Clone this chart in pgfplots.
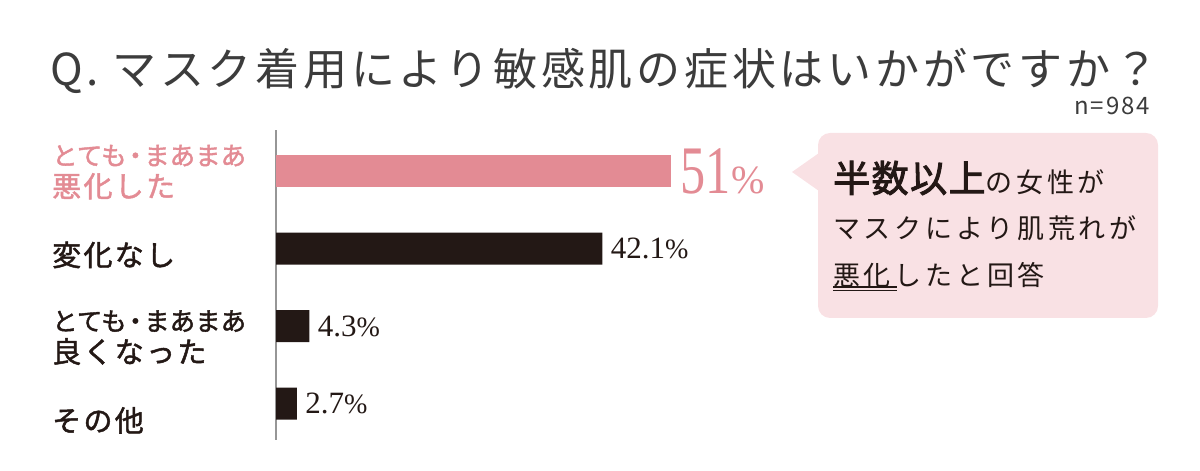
\documentclass[border=0pt]{standalone}
\usepackage{fontspec}
\usepackage{pgfplots}
\pgfplotsset{compat=1.18}
\setmainfont{Noto Sans CJK JP}
\newfontfamily\titlefont[LetterSpace=8.5]{Noto Sans CJK JP}
\newfontfamily\labA[FakeBold=1.6]{Noto Sans CJK JP}
\newfontfamily\labB[FakeBold=1.6,LetterSpace=8]{Noto Sans CJK JP}
\newfontfamily\callA[LetterSpace=14]{Noto Sans CJK JP}
\newfontfamily\callB[FakeBold=2.5,LetterSpace=4]{Noto Sans CJK JP}
\newfontfamily\numfont{Liberation Serif}
\newfontfamily\bignum[FakeStretch=0.74]{Liberation Serif}
\newfontfamily\nfont[LetterSpace=8]{Noto Sans CJK JP}
\definecolor{barpink}{RGB}{227,139,148}
\definecolor{barblack}{RGB}{35,24,21}
\definecolor{calloutbg}{RGB}{249,225,228}
\definecolor{titlegray}{RGB}{60,60,60}
\definecolor{axisgray}{RGB}{150,150,150}
\newcommand{\nd}{\hspace{-4pt}・\hspace{-4pt}}
\newcommand{\labsmall}{\labA\fontsize{25.5}{25.5}\selectfont}
\begin{document}
\begin{tikzpicture}[x=1pt,y=1pt]
\path[use as bounding box] (0,0) rectangle (1200,471);
\node[anchor=west, inner sep=0, text=titlegray, font=\titlefont\fontsize{44}{44}\selectfont] at (50,400) {Q. マスク着用により敏感肌の症状はいかがですか？};
\node[anchor=east, inner sep=0, text=titlegray, font=\nfont\fontsize{24}{24}\selectfont] at (1150,365) {n=984};
% callout
\fill[calloutbg, rounded corners=12pt] (818,153) rectangle (1158,338);
\fill[calloutbg] (819,318) -- (792,299) -- (819,280) -- cycle;
\node[anchor=west, inner sep=0, text=barblack] at (833,293) {{\callB\fontsize{37}{37}\selectfont 半数以上}{\callA\fontsize{27}{27}\selectfont の女性が}};
\node[anchor=west, inner sep=0, text=barblack, font=\callA\fontsize{27}{27}\selectfont] at (833,243) {マスクにより肌荒れが};
\node[anchor=west, inner sep=0, text=barblack, font=\callA\fontsize{27}{27}\selectfont] at (833,196) {悪化したと回答};
\draw[barblack, line width=1.3pt] (833,184) -- (897,184);
\draw[barblack, line width=0.7pt] (833,180.5) -- (897,180.5);
\begin{axis}[
  at={(276pt,31pt)}, anchor=south west, scale only axis,
  width=465pt, height=310pt,
  xmin=0, xmax=60, ymin=-0.53, ymax=3.47, y dir=reverse,
  xbar, bar width=32pt, bar shift=0pt,
  axis x line=none, axis y line*=left,
  y axis line style={axisgray, line width=1.2pt},
  ytick={0,1,2,3},
  yticklabels={
    {{\color{barpink}\labsmall とても\nd まあまあ}\\{\color{barpink}悪化した}},
    {変化なし},
    {{\labsmall とても\nd まあまあ}\\良くなった},
    {その他}},
  major tick length=0pt,
  yticklabel style={anchor=west, xshift=-224pt, yshift={-1pt-5.3pt*\ticknum}, inner sep=0pt, align=left, text=barblack, font=\labB\fontsize{29}{32}\selectfont},
  clip=false,
  /pgf/number format/assume math mode=true,
]
\addplot[fill=barpink, draw=none,
  nodes near coords={{\bignum\fontsize{68}{68}\selectfont 51}{\numfont\fontsize{40}{40}\selectfont\%}},
  nodes near coords style={text=barpink, anchor=west, xshift=6pt}]
  coordinates {(51,0)};
\addplot[fill=barblack, draw=none,
  nodes near coords={\numfont\fontsize{31}{31}\selectfont\pgfmathprintnumber[fixed,precision=1]{\pgfplotspointmeta}{\fontsize{28}{28}\selectfont\%}},
  nodes near coords style={text=barblack, anchor=west, xshift=5pt}]
  coordinates {(42.1,1) (4.3,2) (2.7,3)};
\end{axis}
\end{tikzpicture}
\end{document}
